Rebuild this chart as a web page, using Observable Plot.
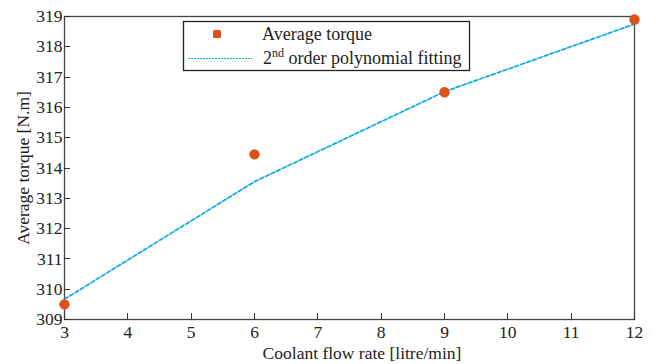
<!DOCTYPE html>
<html>
<head>
<meta charset="utf-8">
<script src="https://cdn.jsdelivr.net/npm/d3@7"></script>
<script src="https://cdn.jsdelivr.net/npm/@observablehq/plot@0.6"></script>
<style>
  body { margin: 0; background: #fff; }
  #chart { position: relative; width: 656px; height: 364px; }
</style>
</head>
<body>
<div id="chart"></div>
<script>
const flowRates = [3, 6, 9, 12];
const avgTorque = [309.5, 314.45, 316.5, 318.9];
const fitTorque = [309.67, 313.55, 316.52, 318.75];
const xTicks = [3, 4, 5, 6, 7, 8, 9, 10, 11, 12];
const yTicks = [309, 310, 311, 312, 313, 314, 315, 316, 317, 318, 319];
const legendLabels = ["Average torque", "order polynomial fitting"];

const points = flowRates.map((x, i) => ({x, y: avgTorque[i]}));
const fit = flowRates.map((x, i) => ({x, y: fitTorque[i]}));

const orange = "#D95319";
const cyan = "#0aaaea";
const font = "'Liberation Serif', 'Times New Roman', serif";

const chart = Plot.plot({
  width: 656,
  height: 364,
  marginLeft: 64,
  marginRight: 22,
  marginTop: 16,
  marginBottom: 45,
  style: {fontFamily: font, fontSize: "17px", color: "#222", background: "#fff"},
  x: {domain: [3, 12], ticks: xTicks, label: null},
  y: {domain: [309, 319], ticks: yTicks, label: null},
  marks: [
    Plot.frame({stroke: "#444", strokeWidth: 1.3}),
    Plot.axisX({ticks: xTicks, tickSize: 0, tickPadding: 6, fontSize: 17.5, label: null}),
    Plot.axisY({ticks: yTicks, tickSize: 0, tickPadding: 2, fontSize: 17.5, label: null}),
    Plot.line(fit, {x: "x", y: "y", stroke: cyan, strokeWidth: 1.7, strokeDasharray: "4,2.2"}),
    Plot.dot(points, {x: "x", y: "y", fill: orange, r: 5.2, symbol: "circle"})
  ]
});
document.getElementById("chart").appendChild(chart);

const svg = d3.select(chart);
const sx = chart.scale("x"), sy = chart.scale("y");
const y0 = sy.apply(309), x0 = sx.apply(3);
// inward tick marks
const tk = svg.append("g").attr("stroke", "#333").attr("stroke-width", 1);
xTicks.forEach(v => {
  const px = Math.round(sx.apply(v)) + 0.5;
  tk.append("line").attr("x1", px).attr("x2", px).attr("y1", y0).attr("y2", y0 - 6);
});
yTicks.forEach(v => {
  const py = Math.round(sy.apply(v)) + 0.5;
  tk.append("line").attr("x1", x0).attr("x2", x0 + 6).attr("y1", py).attr("y2", py);
});

// Axis titles
svg.append("text")
  .attr("x", 362).attr("y", 359)
  .attr("text-anchor", "middle")
  .attr("font-size", 17.5).attr("fill", "#222")
  .text("Coolant flow rate [litre/min]");
svg.append("text")
  .attr("transform", "translate(29,168) rotate(-90)")
  .attr("text-anchor", "middle")
  .attr("font-size", 17.5).attr("fill", "#222")
  .text("Average torque [N.m]");

// Legend
const lg = svg.append("g");
lg.append("rect").attr("x", 183.5).attr("y", 21.5).attr("width", 286).attr("height", 49)
  .attr("fill", "#fff").attr("stroke", "#222").attr("stroke-width", 1.3);
lg.append("rect").attr("x", 213).attr("y", 30).attr("width", 8).attr("height", 8).attr("rx", 1.5)
  .attr("fill", orange);
lg.append("line").attr("x1", 188).attr("x2", 252).attr("y1", 58.5).attr("y2", 58.5)
  .attr("stroke", cyan).attr("stroke-width", 1).attr("stroke-dasharray", "2,1");
lg.append("text").attr("x", 262).attr("y", 40).attr("font-size", 18).attr("fill", "#222")
  .attr("text-anchor", "start")
  .text(legendLabels[0]);
const t2 = lg.append("text").attr("x", 263).attr("y", 64).attr("font-size", 18).attr("fill", "#222")
  .attr("text-anchor", "start");
t2.append("tspan").text("2");
t2.append("tspan").attr("font-size", 12).attr("dy", -7).text("nd");
t2.append("tspan").attr("dy", 7).text(" " + legendLabels[1]);
</script>
</body>
</html>
